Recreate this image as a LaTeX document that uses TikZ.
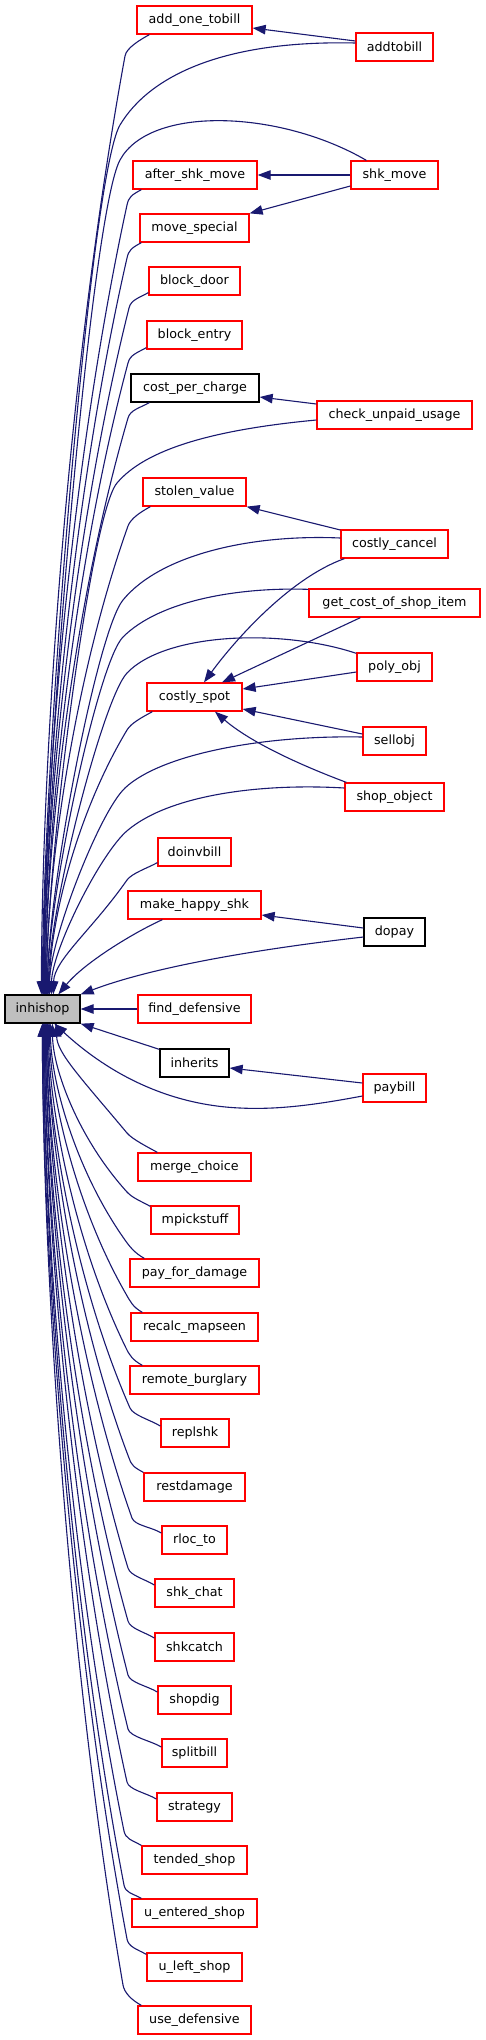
\documentclass[tikz,border=0pt]{standalone}
\usepackage{fontspec}
\setmainfont{DejaVu Sans}
\usetikzlibrary{arrows.meta}
\definecolor{edgeblue}{HTML}{191970}
\definecolor{inhgray}{HTML}{BFBFBF}
\newcommand\nodefont{\fontsize{12.7}{15}\selectfont}
\begin{document}
\begin{tikzpicture}[x=1pt,y=-1pt,
  nbox/.style={draw=red, line width=1.3pt, minimum height=28pt, inner sep=0pt, font=\nodefont, fill=white},
  kbox/.style={nbox, draw=black},
  conn/.style={draw=edgeblue, line width=1.1pt, -{Triangle[length=13pt,width=9.5pt]}}]
\fill[white] (0,0) rectangle (485,2040);
\useasboundingbox (0,0) rectangle (485,2040);
% nodes
\node[nbox, minimum width=115pt] (add) at (194.5,20) {add\_one\_tobill};
\node[nbox, minimum width=77pt] (addtobill) at (394.5,47) {addtobill};
\node[nbox, minimum width=124pt] (asm) at (195,175) {after\_shk\_move};
\node[nbox, minimum width=87pt] (shkmove) at (394.5,175) {shk\_move};
\node[nbox, minimum width=109pt] (mvs) at (194.5,228) {move\_special};
\node[nbox, minimum width=91pt] (bdoor) at (194.5,281) {block\_door};
\node[nbox, minimum width=95pt] (bentry) at (194.5,335) {block\_entry};
\node[kbox, minimum width=128pt] (cpc) at (195,388) {cost\_per\_charge};
\node[nbox, minimum width=155pt] (cuu) at (394.5,415) {check\_unpaid\_usage};
\node[nbox, minimum width=103pt] (sv) at (194.5,492) {stolen\_value};
\node[nbox, minimum width=107pt] (cc) at (394.5,544) {costly\_cancel};
\node[nbox, minimum width=171pt] (gcs) at (394.5,603) {get\_cost\_of\_shop\_item};
\node[nbox, minimum width=75pt] (poly) at (394.5,667) {poly\_obj};
\node[nbox, minimum width=95pt] (cs) at (194.5,697) {costly\_spot};
\node[nbox, minimum width=63pt] (sell) at (394.5,741) {sellobj};
\node[nbox, minimum width=99pt] (so) at (394.5,797) {shop\_object};
\node[nbox, minimum width=73pt] (dib) at (194.5,852) {doinvbill};
\node[nbox, minimum width=133pt] (mhs) at (194.5,905) {make\_happy\_shk};
\node[kbox, minimum width=61pt] (dopay) at (394.5,932) {dopay};
\node[kbox, minimum width=75pt, fill=inhgray] (inh) at (42.5,1009) {inhishop};
\node[nbox, minimum width=113pt] (fd) at (194.5,1009) {find\_defensive};
\node[kbox, minimum width=69pt] (inherits) at (194.5,1063) {inherits};
\node[nbox, minimum width=63pt] (paybill) at (394.5,1088) {paybill};
\node[nbox, minimum width=113pt] (mc) at (194.5,1167) {merge\_choice};
\node[nbox, minimum width=88pt] (mps) at (195,1220) {mpickstuff};
\node[nbox, minimum width=129pt] (pfd) at (194.5,1273) {pay\_for\_damage};
\node[nbox, minimum width=127pt] (rm) at (194.5,1327) {recalc\_mapseen};
\node[nbox, minimum width=129pt] (rb) at (194.5,1380) {remote\_burglary};
\node[nbox, minimum width=68pt] (rs) at (195,1433) {replshk};
\node[nbox, minimum width=101pt] (rd) at (194.5,1487) {restdamage};
\node[nbox, minimum width=65pt] (rl) at (194.5,1540) {rloc\_to};
\node[nbox, minimum width=79pt] (sc) at (194.5,1593) {shk\_chat};
\node[nbox, minimum width=79pt] (sk) at (194.5,1647) {shkcatch};
\node[nbox, minimum width=73pt] (sd) at (194.5,1700) {shopdig};
\node[nbox, minimum width=65pt] (sb) at (194.5,1753) {splitbill};
\node[nbox, minimum width=75pt] (st) at (194.5,1807) {strategy};
\node[nbox, minimum width=105pt] (ts) at (194.5,1860) {tended\_shop};
\node[nbox, minimum width=125pt] (ues) at (194.5,1913) {u\_entered\_shop};
\node[nbox, minimum width=95pt] (uls) at (194.5,1967) {u\_left\_shop};
\node[nbox, minimum width=113pt] (ud) at (194.5,2020) {use\_defensive};
% edges between right column and middle column
\draw[conn] ([shift={(0,-6)}]addtobill.west) -- ([shift={(0,8)}]add.east);
\draw[conn] (shkmove.west) -- (asm.east);
\draw[conn] ([shift={(0,11)}]shkmove.west) -- (mvs.north east);
\draw[conn] ([shift={(0,-11)}]cuu.west) -- ([shift={(0,9)}]cpc.east);
\draw[conn] ([shift={(0,-14)}]cc.west) -- (sv.south east);
\draw[conn] ([shift={(4,0)}]cc.south west) .. controls (290,578) and (235,640) .. ([shift={(9.5,0)}]cs.north);
\draw[conn] ([shift={(52,0)}]gcs.south west) -- ([shift={(27.5,0)}]cs.north);
\draw[conn] ([shift={(0,5)}]poly.west) -- ([shift={(0,-8)}]cs.east);
\draw[conn] ([shift={(0,-7)}]sell.west) -- ([shift={(0,12)}]cs.east);
\draw[conn] ([shift={(2,0)}]so.north west) .. controls (300,765) and (250,742) .. ([shift={(20.5,0)}]cs.south);
\draw[conn] ([shift={(0,-4)}]dopay.west) -- ([shift={(0,10)}]mhs.east);
\draw[conn] ([shift={(0,-5)}]paybill.west) -- ([shift={(0,5)}]inherits.east);
% edges into inhishop from above
\draw[conn] ([shift={(13,0)}]add.south west) .. controls (139.6,40) and (126.4,48) .. (125,56) .. controls (70,356) and (42,741) .. ([shift={(37,0)}]inh.north west);
\draw[conn] ([shift={(0,-4)}]addtobill.west) .. controls (225,40) and (150,75) .. (120,125) .. controls (90,176) and (43,760) .. ([shift={(38,0)}]inh.north west);
\draw[conn] ([shift={(16,0)}]shkmove.north west) .. controls (280,110) and (150,105) .. (120,160) .. controls (91,213) and (44,770) .. ([shift={(39,0)}]inh.north west);
\draw[conn] ([shift={(9,0)}]asm.south west) .. controls (131.6,195) and (128.7,197) .. (127,205) .. controls (72,458) and (44,782) .. ([shift={(39,0)}]inh.north west);
\draw[conn] ([shift={(2,0)}]mvs.south west) .. controls (131.6,248) and (128.8,250) .. (127,258) .. controls (73,494) and (45,796) .. ([shift={(40,0)}]inh.north west);
\draw[conn] ([shift={(0,-3)}]bdoor.south west) .. controls (138.6,298) and (130.9,300) .. (129,308) .. controls (74,528) and (45,810) .. ([shift={(40,0)}]inh.north west);
\draw[conn] ([shift={(0,-2)}]bentry.south west) .. controls (136.6,353) and (130,355) .. (128,363) .. controls (74,565) and (46,824) .. ([shift={(41,0)}]inh.north west);
\draw[conn] ([shift={(19,0)}]cpc.south west) .. controls (139.6,408) and (130.2,410) .. (128,418) .. controls (74,603) and (46,839) .. ([shift={(41,0)}]inh.north west);
\draw[conn] ([shift={(0,5)}]cuu.west) .. controls (210,430) and (145,450) .. (117,483) .. controls (91,513) and (47,857) .. ([shift={(42,0)}]inh.north west);
\draw[conn] ([shift={(8,0)}]sv.south west) .. controls (140.6,512) and (130.7,518.5) .. (128,526) .. controls (74.5,676) and (47,868) .. ([shift={(42,0)}]inh.north west);
\draw[conn] ([shift={(0,-6)}]cc.west) .. controls (250,534) and (160,555) .. (123,600) .. controls (97.4,631) and (48,888) .. ([shift={(43,0)}]inh.north west);
\draw[conn] ([shift={(0,1)}]gcs.north west) .. controls (240,587) and (160,600) .. (123,637) .. controls (98,662) and (48,898) .. ([shift={(43,0)}]inh.north west);
\draw[conn] ([shift={(0,1)}]poly.north west) .. controls (280,628) and (165,633) .. (127,673) .. controls (103,698.5) and (49,908) .. ([shift={(44,0)}]inh.north west);
\draw[conn] ([shift={(6,0)}]cs.south west) .. controls (142.6,717) and (131.1,723) .. (127,730) .. controls (76,815) and (50,923) .. ([shift={(45,0)}]inh.north west);
\draw[conn] ([shift={(0,-4)}]sell.west) .. controls (260,735) and (160,755) .. (125,788) .. controls (99.5,812) and (50,939) .. ([shift={(45,0)}]inh.north west);
\draw[conn] ([shift={(0,-9)}]so.west) .. controls (260,783) and (170,795) .. (128,830) .. controls (101,852) and (52,950) .. ([shift={(47,0)}]inh.north west);
\draw[conn] ([shift={(0,-4)}]dib.south west) .. controls (147.6,868) and (131.6,873.4) .. (127,880) .. controls (92,930) and (54,960) .. ([shift={(49,0)}]inh.north west);
\draw[conn] ([shift={(35,0)}]mhs.south west) .. controls (135,932) and (85,962) .. ([shift={(54,0)}]inh.north west);
\draw[conn] ([shift={(0,5)}]dopay.west) .. controls (250,950) and (150,968) .. (inh.north east);
% edges into inhishop, side and below
\draw[conn] (fd.west) -- (inh.east);
\draw[conn] ([shift={(0,1)}]inherits.north west) -- (inh.south east);
\draw[conn] ([shift={(0,8)}]paybill.west) .. controls (320,1104) and (280,1110) .. (240,1108) .. controls (170,1105) and (110,1075) .. ([shift={(50,0)}]inh.south west);
\draw[conn] ([shift={(20,0)}]mc.north west) .. controls (147.6,1147) and (132.1,1139.1) .. (127,1133) .. controls (81,1078) and (57,1053) .. ([shift={(52,0)}]inh.south west);
\draw[conn] ([shift={(0,1)}]mps.north west) .. controls (140.6,1201) and (132.4,1197.9) .. (127,1192) .. controls (78,1138) and (53,1069) .. ([shift={(48,0)}]inh.south west);
\draw[conn] ([shift={(15,0)}]pfd.north west) .. controls (134.6,1253) and (129.6,1246.5) .. (125,1240) .. controls (76,1171) and (51,1082) .. ([shift={(46,0)}]inh.south west);
\draw[conn] ([shift={(12,0)}]rm.north west) .. controls (132.6,1307) and (130,1300.9) .. (126,1294) .. controls (76,1207) and (50,1096) .. ([shift={(45,0)}]inh.south west);
\draw[conn] ([shift={(13,0)}]rb.north west) .. controls (132.6,1360) and (129.5,1355.2) .. (126,1348) .. controls (75,1244) and (49,1111) .. ([shift={(44,0)}]inh.south west);
\draw[conn] ([shift={(0,-7)}]rs.west) .. controls (150.6,1420) and (133.2,1415.3) .. (130,1408) .. controls (76,1285) and (48,1127) .. ([shift={(43,0)}]inh.south west);
\draw[conn] (rd.north west) .. controls (133.6,1467) and (131.8,1465.5) .. (129,1458) .. controls (76,1319) and (48,1140) .. ([shift={(43,0)}]inh.south west);
\draw[conn] ([shift={(0,-7)}]rl.west) .. controls (151.6,1527) and (134.7,1525.5) .. (132,1518) .. controls (76,1360) and (47,1157) .. ([shift={(42,0)}]inh.south west);
\draw[conn] ([shift={(0,-8)}]sc.west) .. controls (144.6,1579) and (130.3,1575.7) .. (128,1568) .. controls (75,1394) and (47,1170) .. ([shift={(42,0)}]inh.south west);
\draw[conn] ([shift={(0,-9)}]sk.west) .. controls (144.6,1632) and (130.2,1628.7) .. (128,1621) .. controls (74,1430) and (46,1184) .. ([shift={(41,0)}]inh.south west);
\draw[conn] ([shift={(0,-8)}]sd.west) .. controls (147.6,1686) and (130.1,1682.7) .. (128,1675) .. controls (74,1466) and (46,1199) .. ([shift={(41,0)}]inh.south west);
\draw[conn] ([shift={(0,-6)}]sb.west) .. controls (151.6,1741) and (129.9,1736.8) .. (128,1729) .. controls (73,1503) and (45,1214) .. ([shift={(40,0)}]inh.south west);
\draw[conn] ([shift={(0,-8)}]st.west) .. controls (146.6,1793) and (128.8,1789.8) .. (127,1782) .. controls (73,1539) and (45,1228) .. ([shift={(40,0)}]inh.south west);
\draw[conn] (ts.north west) .. controls (131.6,1840) and (125.6,1838.8) .. (124,1831) .. controls (71,1572) and (44,1241) .. ([shift={(39,0)}]inh.south west);
\draw[conn] ([shift={(10,0)}]ues.north west) .. controls (131.6,1893) and (125.6,1892.8) .. (124,1885) .. controls (71,1609) and (44,1256) .. ([shift={(39,0)}]inh.south west);
\draw[conn] ([shift={(0,2)}]uls.north west) .. controls (136.6,1949) and (128.5,1946.9) .. (127,1939) .. controls (72,1646) and (43,1270) .. ([shift={(38,0)}]inh.south west);
\draw[conn] ([shift={(4,0)}]ud.north west) .. controls (131.6,2000) and (124.4,1992.9) .. (123,1985) .. controls (70,1677) and (43,1283) .. ([shift={(38,0)}]inh.south west);
\end{tikzpicture}
\end{document}
